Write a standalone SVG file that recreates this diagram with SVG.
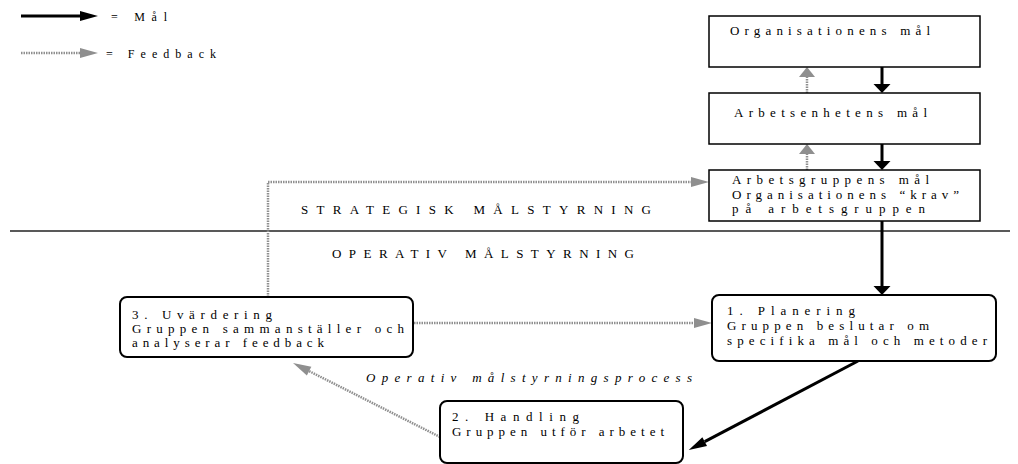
<svg xmlns="http://www.w3.org/2000/svg" width="1018" height="464" viewBox="0 0 1018 464">
<style>
text{font-family:"Liberation Serif","Times New Roman",serif;font-size:13px;fill:#000}
.lg{font-size:12px}
.it{font-style:italic;font-size:13px}
.box{fill:#fff;stroke:#000;stroke-width:1.5}
.rbox{fill:#fff;stroke:#000;stroke-width:2}
.goal{fill:none;stroke:#000;stroke-width:3}
.fb{fill:none;stroke:#8f8f8f;stroke-width:2.5;stroke-dasharray:1.5 1}
.sep{stroke:#222;stroke-width:1.4}
</style>
<defs>
<marker id="hLongBlack" markerUnits="userSpaceOnUse" markerWidth="18" markerHeight="10" refX="0" refY="5" orient="auto" overflow="visible"><path d="M0,0 L18,5 L0,10 z" fill="#000"/></marker>
<marker id="hLongGray" markerUnits="userSpaceOnUse" markerWidth="18" markerHeight="10" refX="0" refY="5" orient="auto" overflow="visible"><path d="M0,0 L18,5 L0,10 z" fill="#8f8f8f"/></marker>
<marker id="hWideBlack" markerUnits="userSpaceOnUse" markerWidth="9" markerHeight="17" refX="0" refY="8.5" orient="auto" overflow="visible"><path d="M0,0 L9,8.5 L0,17 z" fill="#000"/></marker>
<marker id="hWideGray" markerUnits="userSpaceOnUse" markerWidth="10" markerHeight="16" refX="0" refY="8" orient="auto" overflow="visible"><path d="M0,0 L10,8 L0,16 z" fill="#8f8f8f"/></marker>
</defs>

<g id="legend">
<line class="goal" x1="21" y1="16" x2="80" y2="16" marker-end="url(#hLongBlack)"/>
<text class="lg" x="111" y="21" textLength="56" lengthAdjust="spacing">= Mål</text>
<line class="fb" x1="21" y1="53" x2="80" y2="53" marker-end="url(#hLongGray)"/>
<text class="lg" x="106" y="58" textLength="110" lengthAdjust="spacing">= Feedback</text>
</g>

<g id="divider">
<line class="sep" x1="10" y1="231" x2="1010" y2="231"/>
<text x="301" y="214" textLength="350" lengthAdjust="spacing">STRATEGISK MÅLSTYRNING</text>
<text x="332" y="258" textLength="302" lengthAdjust="spacing">OPERATIV MÅLSTYRNING</text>
<text class="it" x="366" y="382" textLength="326" lengthAdjust="spacing">Operativ målstyrningsprocess</text>
</g>

<g id="connectors">
<line class="goal" x1="882" y1="67" x2="882" y2="84" marker-end="url(#hWideBlack)"/>
<line class="goal" x1="882" y1="144" x2="882" y2="161" marker-end="url(#hWideBlack)"/>
<line class="goal" x1="882" y1="221" x2="882" y2="286" marker-end="url(#hWideBlack)"/>
<line class="fb" x1="807" y1="93" x2="807" y2="77" marker-end="url(#hWideGray)"/>
<line class="fb" x1="807" y1="170" x2="807" y2="154" marker-end="url(#hWideGray)"/>
<path class="fb" d="M268,297 L268,182 L691,182" marker-end="url(#hLongGray)"/>
<line class="fb" x1="414" y1="323" x2="694" y2="323" marker-end="url(#hLongGray)"/>
<line class="goal" x1="858" y1="361" x2="704.7" y2="441.7" marker-end="url(#hLongBlack)"/>
<line class="fb" x1="440" y1="437" x2="309.1" y2="371.1" marker-end="url(#hLongGray)"/>
</g>

<g id="org">
<rect class="box" x="709" y="16" width="271" height="51"/>
<text x="730" y="35" textLength="200" lengthAdjust="spacing">Organisationens mål</text>
</g>

<g id="enhet">
<rect class="box" x="709" y="93" width="271" height="51"/>
<text x="734" y="117" textLength="193" lengthAdjust="spacing">Arbetsenhetens mål</text>
</g>

<g id="grupp">
<rect class="box" x="709" y="170" width="271" height="51"/>
<text x="732" y="184" textLength="197" lengthAdjust="spacing">Arbetsgruppens mål</text>
<text x="732" y="198.5" textLength="227" lengthAdjust="spacing">Organisationens “krav”</text>
<text x="732" y="213" textLength="193" lengthAdjust="spacing">på arbetsgruppen</text>
</g>

<g id="planering">
<rect class="rbox" x="712" y="295" width="284" height="66" rx="7"/>
<text x="727" y="315" textLength="128" lengthAdjust="spacing">1. Planering</text>
<text x="727" y="330" textLength="202" lengthAdjust="spacing">Gruppen beslutar om</text>
<text x="727" y="345" textLength="260" lengthAdjust="spacing">specifika mål och metoder</text>
</g>

<g id="handling">
<rect class="rbox" x="440" y="401" width="243" height="62" rx="7"/>
<text x="452" y="421" textLength="127" lengthAdjust="spacing">2. Handling</text>
<text x="452" y="436" textLength="212" lengthAdjust="spacing">Gruppen utför arbetet</text>
</g>

<g id="uvardering">
<rect class="rbox" x="120" y="297" width="293" height="60" rx="7"/>
<text x="132" y="319" textLength="140" lengthAdjust="spacing">3. Uvärdering</text>
<text x="132" y="333" textLength="272" lengthAdjust="spacing">Gruppen sammanställer och</text>
<text x="132" y="347" textLength="192" lengthAdjust="spacing">analyserar feedback</text>
</g>
</svg>
